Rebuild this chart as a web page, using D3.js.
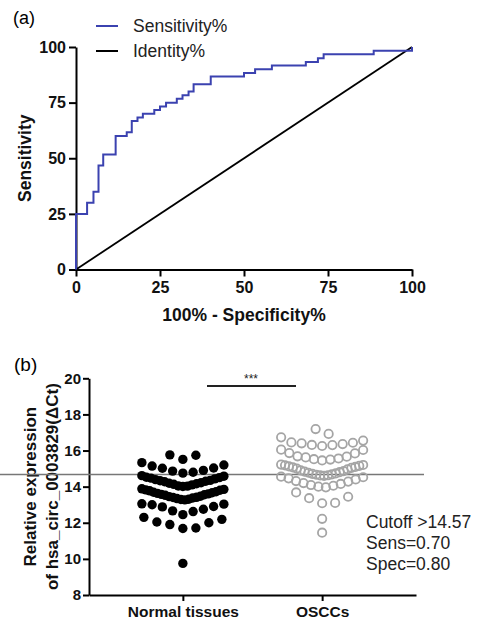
<!DOCTYPE html>
<html>
<head>
<meta charset="utf-8">
<script src="https://cdn.jsdelivr.net/npm/d3@7"></script>
<style>
  html, body { margin: 0; padding: 0; background: #fff; }
  svg { display: block; font-family: "Liberation Sans", Arial, Helvetica, sans-serif; }
</style>
</head>
<body>
<svg id="chart" width="483" height="620"></svg>
<script>
// ---------- Panel (a): ROC ----------
const rocFpr = [0, 0, 3.3, 5.2, 6.7, 8.1, 11.8, 15.1, 16.6, 18.3, 19.9, 23.3, 25, 26.8, 30, 31.7, 33.5, 35, 40.1, 50, 53.3, 58.3, 68.4, 72, 73.7, 88.6, 100];
const rocTpr = [0, 25, 30, 35, 46.7, 51.7, 60, 61.7, 66.7, 68.3, 70, 71.7, 73.3, 75, 76.7, 78.3, 80, 83.3, 86.7, 88.3, 90, 91.7, 93.3, 95, 96.7, 98.3, 100];
const identityX = [0, 100];
const identityY = [0, 100];
const rocTicks = [0, 25, 50, 75, 100];
const legendLabels = ["Sensitivity%", "Identity%"];

// ---------- Panel (b): scatter ----------
const groups = ["Normal tissues", "OSCCs"];
const normalValues = [9.75,
  11.68, 11.71, 11.9, 12.0, 12.04, 12.19, 12.3,
  12.45, 12.62, 12.66, 12.75, 12.88, 12.9, 13.0, 13.03, 13.05,
  13.27, 13.29, 13.3, 13.34, 13.37, 13.4, 13.41, 13.45, 13.47, 13.52, 13.55, 13.57, 13.6, 13.63, 13.66, 13.69, 13.72, 13.77, 13.8, 13.82, 13.85, 13.88,
  14.01, 14.03, 14.04, 14.1, 14.13, 14.16, 14.19, 14.22, 14.27, 14.3, 14.33, 14.35, 14.39, 14.43, 14.47, 14.5, 14.52, 14.58, 14.61,
  14.75, 14.8, 14.86, 14.9, 15.02, 15.03, 15.14, 15.2, 15.33,
  15.51, 15.74, 15.76];
const osccValues = [11.45, 12.22,
  13.08, 13.1, 13.36, 13.44, 13.68,
  13.96, 14.0, 14.05, 14.09, 14.15, 14.2, 14.28, 14.31, 14.4, 14.46, 14.52, 14.55,
  14.6, 14.62, 14.63, 14.66, 14.68, 14.71, 14.73, 14.77, 14.8, 14.83, 14.86, 14.9, 14.96, 15.0, 15.04, 15.07, 15.09, 15.12, 15.15, 15.18, 15.2, 15.22,
  15.45, 15.5, 15.52, 15.56, 15.62, 15.66, 15.68, 15.84, 15.86, 16.03, 16.05,
  16.25, 16.3, 16.31, 16.36, 16.4, 16.43, 16.45, 16.55, 16.73,
  16.92, 17.19];
const cutoffValue = 14.67;
const yTicksB = [8, 10, 12, 14, 16, 18, 20];
const annotation = ["Cutoff >14.57", "Sens=0.70", "Spec=0.80"];

const svg = d3.select("#chart");
svg.append("rect").attr("width", 483).attr("height", 620).attr("fill", "#fff");

// ===== Panel (a) =====
const xA = d3.scaleLinear().domain([0, 100]).range([76, 412]);
const yA = d3.scaleLinear().domain([0, 100]).range([269.5, 47]);

svg.append("text").attr("x", 13).attr("y", 24).attr("font-size", 18).text("(a)");

const gxA = svg.append("g").attr("transform", `translate(0,${yA(0)})`)
  .call(d3.axisBottom(xA).tickValues(rocTicks).tickSize(7).tickSizeOuter(0).tickPadding(5));
const gyA = svg.append("g").attr("transform", `translate(${xA(0)},0)`)
  .call(d3.axisLeft(yA).tickValues(rocTicks).tickSize(7).tickSizeOuter(0).tickPadding(3));
[gxA, gyA].forEach(g => {
  g.selectAll("path.domain").attr("stroke", "#000").attr("stroke-width", 2);
  g.selectAll(".tick line").attr("stroke", "#000").attr("stroke-width", 2);
  g.selectAll(".tick text").attr("font-size", 16).attr("font-weight", "bold")
    .attr("font-family", "'Liberation Sans', Arial, sans-serif").attr("fill", "#111");
});

// identity line
svg.append("path")
  .datum(identityX.map((x, i) => [x, identityY[i]]))
  .attr("d", d3.line().x(d => xA(d[0])).y(d => yA(d[1])))
  .attr("fill", "none").attr("stroke", "#000").attr("stroke-width", 1.8);

// ROC step curve
svg.append("path")
  .datum(rocFpr.map((x, i) => [x, rocTpr[i]]))
  .attr("d", d3.line().x(d => xA(d[0])).y(d => yA(d[1])).curve(d3.curveStepAfter))
  .attr("fill", "none").attr("stroke", "#3b42b0").attr("stroke-width", 2);

// legend
const legColors = ["#3b42b0", "#000"];
legendLabels.forEach((lab, i) => {
  const y = 26 + i * 25;
  svg.append("line").attr("x1", 96).attr("x2", 118).attr("y1", y).attr("y2", y)
    .attr("stroke", legColors[i]).attr("stroke-width", 2);
  svg.append("text").attr("x", 133).attr("y", y + 5.5).attr("font-size", 17.5).attr("fill", "#222").text(lab);
});

// axis titles
svg.append("text").attr("x", (xA(0) + xA(100)) / 2).attr("y", 321)
  .attr("text-anchor", "middle").attr("font-size", 17.5).attr("font-weight", "bold").attr("fill", "#111")
  .text("100% - Specificity%");
svg.append("text").attr("transform", `translate(31,${(yA(0) + yA(100)) / 2}) rotate(-90)`)
  .attr("text-anchor", "middle").attr("font-size", 17.5).attr("font-weight", "bold").attr("fill", "#111")
  .text("Sensitivity");

// ===== Panel (b) =====
const xB = d3.scalePoint().domain(groups).range([89, 416]).padding(0.674);
const yB = d3.scaleLinear().domain([8, 20]).range([595, 378.3]);

svg.append("text").attr("x", 14).attr("y", 371).attr("font-size", 19).text("(b)");

const gyB = svg.append("g").attr("transform", "translate(89,0)")
  .call(d3.axisLeft(yB).tickValues(yTicksB).tickSize(6).tickSizeOuter(0).tickPadding(2));
const gxB = svg.append("g").attr("transform", `translate(0,${yB(8)})`)
  .call(d3.axisBottom(xB).tickSize(6).tickSizeOuter(0).tickPadding(5));
[gxB, gyB].forEach(g => {
  g.selectAll("path.domain").attr("stroke", "#000").attr("stroke-width", 2);
  g.selectAll(".tick line").attr("stroke", "#000").attr("stroke-width", 2);
  g.selectAll(".tick text").attr("font-weight", "bold")
    .attr("font-family", "'Liberation Sans', Arial, sans-serif").attr("fill", "#111");
});
gyB.selectAll(".tick text").attr("font-size", 15);
gxB.selectAll(".tick text").attr("font-size", 15.5);

// y title (two lines)
const yMid = (yB(8) + yB(20)) / 2;
["Relative expression", "of hsa_circ_0003829(\u0394Ct)"].forEach((t, i) => {
  svg.append("text").attr("transform", `translate(${36 + i * 22},${yMid}) rotate(-90)`)
    .attr("text-anchor", "middle").attr("font-size", 17).attr("font-weight", "bold").attr("fill", "#111")
    .text(t);
});

// GraphPad-like row layout
function swarm(values, cx) {
  const sorted = values.slice().sort((a, b) => a - b);
  const rows = [];
  let cur = null;
  sorted.forEach(v => {
    if (!cur || v - cur.start > 0.62 + 1e-6) { cur = { start: v, vals: [] }; rows.push(cur); }
    cur.vals.push(v);
  });
  const out = [];
  rows.forEach(r => {
    const n = r.vals.length;
    const sp = n > 1 ? Math.min(13, 82 / (n - 1)) : 0;
    const slots = d3.range(n).map(i => (i - (n - 1) / 2) * sp)
      .sort((a, b) => Math.abs(a) - Math.abs(b) || b - a);
    r.vals.forEach((v, i) => out.push({ v, x: cx + slots[i] }));
  });
  return out;
}

// cutoff line
svg.append("line").attr("x1", 0).attr("x2", 424).attr("y1", yB(cutoffValue)).attr("y2", yB(cutoffValue))
  .attr("stroke", "#777").attr("stroke-width", 1.6);

const normPts = swarm(normalValues, xB(groups[0]));
svg.append("g").selectAll("circle").data(normPts).join("circle")
  .attr("cx", d => d.x).attr("cy", d => yB(d.v)).attr("r", 4.7).attr("fill", "#000");

const osccPts = swarm(osccValues, xB(groups[1]));
svg.append("g").selectAll("circle").data(osccPts).join("circle")
  .attr("cx", d => d.x).attr("cy", d => yB(d.v)).attr("r", 4.2)
  .attr("fill", "none").attr("stroke", "#a5a5a5").attr("stroke-width", 1.8);

// significance bar
svg.append("line").attr("x1", 207).attr("x2", 296).attr("y1", 386).attr("y2", 386)
  .attr("stroke", "#222").attr("stroke-width", 2.2);
svg.append("text").attr("x", 251).attr("y", 383).attr("text-anchor", "middle")
  .attr("font-size", 12).attr("fill", "#222").text("***");

// annotation
annotation.forEach((t, i) => {
  svg.append("text").attr("x", 366).attr("y", 528 + i * 21).attr("font-size", 17.5).attr("fill", "#222").text(t);
});
</script>
</body>
</html>
